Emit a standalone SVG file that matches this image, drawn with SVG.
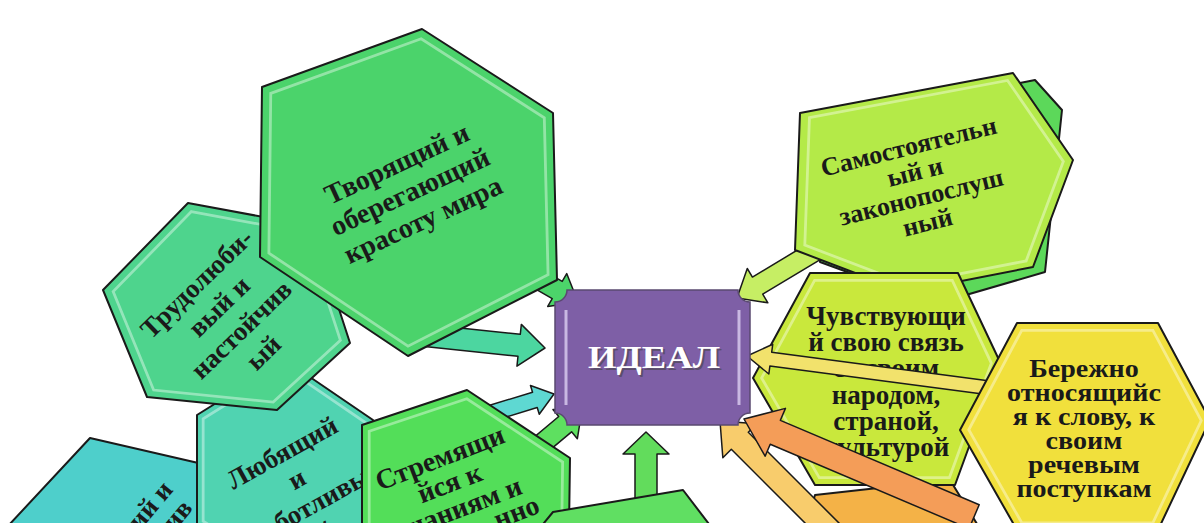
<svg xmlns="http://www.w3.org/2000/svg" width="1204" height="523" viewBox="0 0 1204 523">
<style>
.hex{stroke:#1a1a1a;stroke-width:2;stroke-linejoin:round}
.hl{fill:none;stroke:#ffffff;stroke-opacity:0.4;stroke-width:3}
.arr{stroke:#1a1a1a;stroke-width:1.5;stroke-linejoin:round}
.t{font-family:"Liberation Serif","Times New Roman",serif;font-weight:bold;fill:#1a1a1a;text-anchor:middle}
</style>
<rect width="1204" height="523" fill="#ffffff"/>

<g id="node-hex4">
<polygon class="hex" fill="#4ECFCB" points="90,438 207,465 242,580 160,668 43,641 8,526"/>
<g transform="translate(150,505) rotate(-50)">
<text class="t" font-size="27" x="0" y="9">ий и</text>
<text class="t" font-size="27" x="10" y="36">ив</text>
</g>
</g>

<g id="node-hex3">
<polygon class="hex" fill="#50D3B1" points="285,360 373,420 373,530 285,580 197,525 197,415"/>
<polygon class="hl" points="285,360 373,420 373,530 285,580 197,525 197,415" transform="translate(285,470) scale(0.93) translate(-285,-470)"/>
<g transform="translate(304,492) rotate(-29)">
<text class="t" font-size="27" x="0" y="-36">Любящий</text>
<text class="t" font-size="27" x="0" y="-6">и</text>
<text class="t" font-size="27" x="0" y="24">заботливы</text>
<text class="t" font-size="27" x="0" y="54">й</text>
</g>
</g>

<g id="node-hex2">
<polygon class="hex" fill="#4ED48D" points="188,203 312,226 350,343 277,410 147,397 103,290"/>
<polygon class="hl" points="188,203 312,226 350,343 277,410 147,397 103,290" transform="translate(230,310) scale(0.92) translate(-230,-310)"/>
<g transform="translate(230,318) rotate(-44)">
<text class="t" font-size="27" x="0" y="-39">Трудолюби-</text>
<text class="t" font-size="27" x="0" y="-7">вый и</text>
<text class="t" font-size="27" x="0" y="25">настойчив</text>
<text class="t" font-size="27" x="0" y="57">ый</text>
</g>
</g>

<g id="connectors-back-left">
<polygon class="arr" fill="#4CD6A0" transform="translate(545,348) rotate(6)" points="-120,-11 -26,-11 -26,-21 0,0 -26,21 -26,11 -120,11"/>
<polygon class="arr" fill="#4CD46A" transform="translate(578,302) rotate(30)" points="-90,-10 -24,-10 -24,-19 0,0 -24,19 -24,10 -90,10"/>
</g>

<g id="node-hex1">
<polygon class="hex" fill="#4BD36B" points="262,87 422,29 553,113 557,280 408,356 260,257"/>
<polygon class="hl" points="262,87 422,29 553,113 557,280 408,356 260,257" transform="translate(408,192) scale(0.94) translate(-408,-192)"/>
<g transform="translate(410,192) rotate(-25)">
<text class="t" font-size="28" x="0" y="-22">Творящий и</text>
<text class="t" font-size="28" x="0" y="9">оберегающий</text>
<text class="t" font-size="28" x="0" y="40">красоту мира</text>
</g>
</g>

<g id="connectors-mid-left">
<polygon class="arr" fill="#5ED8D2" transform="translate(554,394) rotate(-17)" points="-70,-8 -20,-8 -20,-15 0,0 -20,15 -20,8 -70,8"/>
<polygon class="arr" fill="#5EE060" transform="translate(582,410) rotate(-40)" points="-70,-10 -22,-10 -22,-19 0,0 -22,19 -22,10 -70,10"/>
</g>

<g id="node-hex5">
<polygon class="hex" fill="#53DE59" points="362,425 467,390 570,458 568,600 465,640 362,600"/>
<polygon class="hl" points="362,425 467,390 570,458 568,600 465,640 362,600" transform="translate(465,515) scale(0.93) translate(-465,-515)"/>
<g transform="translate(440,458) rotate(-21)">
<text class="t" font-size="28" x="0" y="9">Стремящи</text>
<text class="t" font-size="28" x="0" y="36">йся к</text>
<text class="t" font-size="28" x="0" y="63">знаниям и</text>
<text class="t" font-size="28" x="52" y="87">нно</text>
</g>
</g>

<g id="connectors-bottom">
<polygon class="arr" fill="#62DC5C" transform="translate(646,432) rotate(-90)" points="-75,-11 -22,-11 -22,-23 0,0 -22,23 -22,11 -75,11"/>
</g>

<g id="node-hex6">
<polygon class="hex" fill="#60DF62" points="553,512 683,490 725,545 700,560 540,560 530,540"/>
</g>

<g id="node-hex7-back">
<polygon class="hex" fill="#5CD85A" points="830,120 1035,80 1062,110 1045,272 935,304 820,262"/>
</g>

<g id="connectors-right-top">
<polygon class="arr" fill="#C6EE64" transform="translate(737,298) rotate(149)" points="-95,-10 -24,-10 -24,-20 0,0 -24,20 -24,10 -95,10"/>
</g>

<g id="node-hex7">
<polygon class="hex" fill="#B4EA48" points="800,113 1013,73 1073,160 1033,267 905,292 795,250"/>
<polygon class="hl" points="800,113 1013,73 1073,160 1033,267 905,292 795,250" transform="translate(935,180) scale(0.93) translate(-935,-180)"/>
<g transform="translate(918,184) rotate(-14)">
<text class="t" font-size="26" x="0" y="-30">Самостоятельн</text>
<text class="t" font-size="26" x="0" y="-4">ый и</text>
<text class="t" font-size="26" x="0" y="22">законопослуш</text>
<text class="t" font-size="26" x="0" y="48">ный</text>
</g>
</g>

<g id="node-hex10">
<polygon class="hex" fill="#F4B247" points="815,495 950,480 990,545 800,545"/>
</g>

<g id="node-hex8">
<polygon class="hex" fill="#C9E83C" points="810,273 958,273 1000,362 955,485 815,485 753,378"/>
<polygon class="hl" points="810,273 958,273 1000,362 955,485 815,485 753,378" transform="translate(876,379) scale(0.93) translate(-876,-379)"/>
<text class="t" font-size="27" x="886" y="325">Чувствующи</text>
<text class="t" font-size="27" x="886" y="351">й свою связь</text>
<text class="t" font-size="27" x="886" y="377">со своим</text>
<text class="t" font-size="27" x="886" y="404">народом,</text>
<text class="t" font-size="27" x="886" y="430">страной,</text>
<text class="t" font-size="27" x="886" y="456">культурой</text>
</g>

<g id="connectors-right">
<polygon class="arr" fill="#F2E26C" transform="translate(747,356) rotate(187.5)" points="-250,-7 -24,-7 -24,-15 0,0 -24,15 -24,7 -250,7"/>
</g>

<g id="node-hex9">
<polygon class="hex" fill="#F1E03C" points="1017,323 1158,323 1210,420 1158,530 1017,530 960,430"/>
<polygon class="hl" points="1017,323 1158,323 1210,420 1158,530 1017,530 960,430" transform="translate(1085,427) scale(0.93) translate(-1085,-427)"/>
<g transform="translate(1084,0) scale(1.08,1)">
<text class="t" font-size="26" x="0" y="377">Бережно</text>
<text class="t" font-size="26" x="0" y="401">относящийс</text>
<text class="t" font-size="26" x="0" y="425">я к слову, к</text>
<text class="t" font-size="26" x="0" y="449">своим</text>
<text class="t" font-size="26" x="0" y="473">речевым</text>
<text class="t" font-size="26" x="0" y="497">поступкам</text>
</g>
</g>

<g id="connectors-lower-right">
<polygon class="arr" fill="#F8CC6C" transform="translate(720,421) rotate(225)" points="-160,-12 -28,-12 -28,-24 0,0 -28,24 -28,12 -160,12"/>
<polygon class="arr" fill="#F49D58" transform="translate(744,419) rotate(203)" points="-250,-13 -34,-13 -34,-26 0,0 -34,26 -34,13 -250,13"/>
</g>

<g id="node-ideal">
<path fill="#7E5FA6" stroke="#5a4a70" stroke-width="1.5" d="M567,290 H738 A12,12 0 0 0 750,302 V413 A12,12 0 0 0 738,425 H567 A12,12 0 0 0 555,413 V302 A12,12 0 0 0 567,290 Z"/>
<line x1="566" y1="310" x2="566" y2="405" stroke="#C9B8E2" stroke-width="3"/>
<line x1="739" y1="310" x2="739" y2="405" stroke="#C9B8E2" stroke-width="3"/>
<text font-family="Liberation Serif,serif" font-weight="bold" font-size="32" x="656" y="370" text-anchor="middle" textLength="132" lengthAdjust="spacingAndGlyphs" fill="#444" opacity="0.6">ИДЕАЛ</text>
<text font-family="Liberation Serif,serif" font-weight="bold" font-size="32" x="654" y="368" text-anchor="middle" textLength="132" lengthAdjust="spacingAndGlyphs" fill="#ffffff">ИДЕАЛ</text>
</g>
</svg>
